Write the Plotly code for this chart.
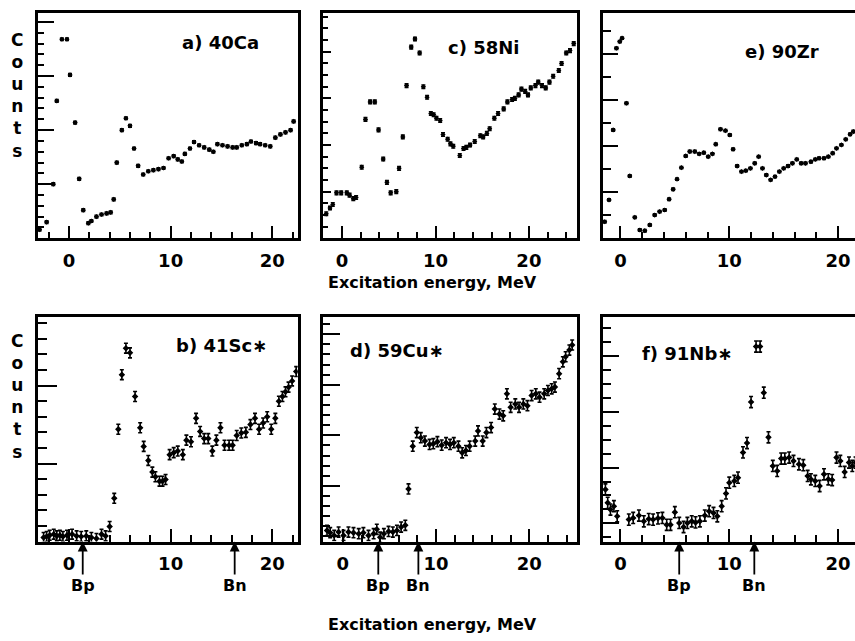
import plotly.graph_objects as go

# ---------------- data ----------------
# a) 40Ca
ca40_E = [-2.9, -2.2, -1.55, -1.2, -0.7, -0.2, 0.1, 0.6, 1.0, 1.4, 1.9, 2.2, 2.7, 3.2, 3.7, 4.1,
          4.4, 4.7, 5.2, 5.6, 6.0, 6.4, 6.8, 7.3, 7.8, 8.3, 8.8, 9.3, 9.8, 10.3, 10.7, 11.1, 11.4,
          11.9, 12.3, 12.8, 13.3, 13.8, 14.2, 14.6, 15.1, 15.6, 16.1, 16.5, 17.0, 17.5, 17.9, 18.4,
          18.8, 19.3, 19.8, 20.3, 20.8, 21.3, 21.8, 22.1]
ca40_C = [0.8, 1.5, 5.0, 12.7, 18.4, 18.4, 15.1, 10.7, 5.5, 2.6, 1.4, 1.6, 2.0, 2.2, 2.3, 2.4,
          3.6, 7.0, 10.0, 11.1, 10.4, 8.3, 6.7, 5.9, 6.2, 6.3, 6.4, 6.5, 7.4, 7.6, 7.3, 7.1, 7.8,
          8.3, 8.9, 8.6, 8.4, 8.2, 8.0, 8.7, 8.6, 8.5, 8.4, 8.4, 8.6, 8.7, 8.95, 8.8,
          8.7, 8.6, 8.5, 9.3, 9.6, 9.8, 10.0, 10.8]

# c) 58Ni
ni58_E = [-1.7, -1.3, -1.0, -0.6, -0.1, 0.5, 0.8, 1.2, 1.5, 2.1, 2.5, 3.0, 3.5, 3.9, 4.4, 4.8,
          5.2, 5.8, 6.1, 6.5, 6.9, 7.4, 7.8, 8.3, 8.7, 9.1, 9.5, 9.8, 10.1, 10.5, 10.8, 11.3, 11.6,
          11.9, 12.6, 13.0, 13.3, 13.7, 14.2, 14.8, 15.1, 15.5, 15.8, 16.3, 16.7, 17.3, 17.7, 18.2,
          18.5, 18.9, 19.2, 19.6, 19.9, 20.2, 20.7, 21.0, 21.4, 21.8, 22.2, 22.6, 23.2, 23.5, 24.0,
          24.4, 24.8]
ni58_C = [2.1, 2.6, 2.9, 3.9, 3.9, 3.9, 3.7, 3.4, 3.5, 6.1, 10.2, 11.7, 11.7, 9.3, 6.8, 4.8,
          3.9, 4.0, 6.0, 8.7, 13.1, 16.4, 17.1, 15.9, 13.0, 12.1, 10.7, 10.6, 10.3, 10.1, 8.9, 8.5, 8.1,
          7.9, 7.1, 7.7, 7.8, 8.0, 8.3, 8.8, 8.7, 9.0, 9.4, 10.3, 10.7, 11.1, 11.7, 11.9,
          12.0, 12.3, 12.8, 12.6, 12.3, 12.9, 13.1, 13.4, 13.1, 12.9, 13.4, 13.9, 14.4, 15.0, 15.9,
          16.1, 16.7]

# e) 90Zr
zr90_E = [-1.45, -1.05, -0.67, -0.37, -0.06, 0.15, 0.55, 0.86, 1.32, 1.78, 2.24, 2.7, 3.15, 3.6,
          4.07, 4.47, 4.84, 5.2, 5.6, 6.0, 6.37, 6.83, 7.23, 7.66, 8.06, 8.45, 8.76, 9.19, 9.65,
          10.05, 10.35, 10.72, 11.12, 11.52, 11.94, 12.34, 12.7, 13.05, 13.4, 13.8, 14.2, 14.6,
          15.0, 15.4, 15.8, 16.2, 16.6, 17.0, 17.5, 17.9, 18.25, 18.7, 19.1, 19.5, 19.85, 20.3,
          20.7, 21.1, 21.4]
zr90_C = [0.72, 1.67, 4.71, 8.26, 8.55, 8.70, 5.87, 2.71, 0.91, 0.36, 0.33, 0.58, 1.01, 1.16,
          1.23, 1.70, 2.13, 2.57, 3.07, 3.58, 3.77, 3.77, 3.67, 3.72, 3.55, 3.67, 4.09, 4.74, 4.68,
          4.49, 3.87, 3.14, 2.90, 2.94, 3.04, 3.26, 3.55, 3.04, 2.75, 2.54, 2.68, 2.90,
          3.04, 3.14, 3.26, 3.43, 3.26, 3.26, 3.33, 3.43, 3.48, 3.48, 3.55, 3.70, 3.91, 4.06,
          4.30, 4.52, 4.64]

# b) 41Sc*
sc41_E = [-2.5, -2.2, -1.9, -1.5, -1.2, -0.9, -0.6, -0.2, 0.3, 0.75, 1.2, 1.7, 2.2, 2.7, 3.2, 3.6,
          4.0, 4.45, 4.85, 5.2, 5.6, 6.0, 6.5, 7.0, 7.35, 7.8, 8.2, 8.5, 8.9, 9.2, 9.5, 9.9, 10.3,
          10.7, 11.2, 11.55, 12.0, 12.5, 12.9, 13.3, 13.7, 14.1, 14.5, 14.9, 15.3, 15.75, 16.1,
          16.5, 16.95, 17.4, 17.85, 18.3, 18.7, 19.1, 19.5, 19.9, 20.3, 20.65, 21.0, 21.3, 21.6,
          21.95, 22.35]
sc41_C = [0.26, 0.32, 0.4, 0.47, 0.36, 0.4, 0.32, 0.4, 0.47, 0.36, 0.32, 0.36, 0.26, 0.19, 0.47, 0.36,
          0.96, 2.77, 7.2, 10.7, 12.4, 12.1, 9.3, 7.3, 6.1, 5.2, 4.45, 4.15, 3.87, 3.87, 3.98, 5.57, 5.7,
          5.8, 5.57, 6.5, 6.4, 7.9, 7.06, 6.6, 6.6, 5.8, 6.5, 7.3, 6.17, 6.17, 6.17,
          6.8, 6.96, 7.0, 7.5, 7.9, 7.2, 7.6, 8.0, 7.2, 7.9, 9.0, 9.3, 9.6, 9.9,
          10.3, 10.9]

# d) 59Cu*
cu59_E = [-1.7, -1.36, -0.93, -0.46, 0.07, 0.6, 1.14, 1.7, 2.2, 2.75, 3.3, 3.64, 4.0, 4.4, 4.9,
          5.36, 5.8, 6.25, 6.7, 7.04, 7.5, 7.93, 8.36, 8.8, 9.3, 9.7, 10.14, 10.6, 11.07, 11.5,
          11.9, 12.4, 12.8, 13.2, 13.6, 14.2, 14.5, 15.0, 15.4, 15.9, 16.3, 16.8, 17.2, 17.6,
          18.0, 18.5, 18.9, 19.36, 19.8, 20.25, 20.7, 21.1, 21.6, 22.0, 22.4, 22.75, 23.2, 23.6,
          23.9, 24.3, 24.6]
cu59_C = [1.1, 0.87, 0.6, 0.93, 0.6, 0.93, 0.87, 0.77, 0.87, 0.6, 0.77, 1.2, 0.43, 0.77, 1.0,
          0.93, 1.1, 1.43, 1.6, 5.2, 9.43, 10.77, 10.27, 9.93, 9.6, 9.67, 9.87, 9.53, 9.77, 9.6,
          9.77, 9.43, 8.77, 9.0, 9.43, 9.93, 10.93, 9.93, 10.77, 11.27, 13.1, 12.6, 12.43, 14.6,
          13.27, 13.6, 13.27, 13.6, 13.43, 14.43, 14.6, 14.27, 14.6, 14.93, 15.1, 15.27, 16.6, 17.77,
          18.27, 18.93, 19.43]

# f) 91Nb*
nb91_E = [-1.38, -1.17, -0.92, -0.6, -0.3, 0.77, 1.17, 1.7, 2.15, 2.6, 3.0, 3.45, 3.85, 4.25,
          4.6, 5.0, 5.4, 5.8, 6.15, 6.55, 6.9, 7.3, 7.75, 8.15, 8.55, 8.9, 9.3, 9.7, 10.0, 10.46,
          10.8, 11.26, 11.63, 12.0, 12.46, 12.83, 13.17, 13.6, 14.0, 14.4, 14.77, 15.1, 15.5,
          15.9, 16.4, 16.8, 17.2, 17.5, 17.9, 18.3, 18.7, 19.1, 19.45, 19.85, 20.2, 20.6, 21.0,
          21.3, 21.6]
nb91_C = [2.43, 1.47, 0.99, 1.23, 0.51, 0.27, 0.39, 0.56, 0.15, 0.31, 0.27, 0.36, 0.39, -0.1,
          -0.1, 0.8, 0.03, -0.26, 0.03, 0.15, 0.07, 0.15, 0.56, 0.87, 0.75, 0.51, 1.23, 2.15, 2.92, 3.04,
          3.28, 5.09, 5.76, 8.7, 12.68, 12.68, 9.37, 6.17, 4.12, 3.76, 4.65, 4.65, 4.72,
          4.48, 4.24, 4.17, 3.4, 3.16, 3.04, 2.68, 3.52, 3.16, 3.11, 4.72, 4.48, 3.69, 4.36,
          4.12, 4.36]

# thresholds Bp / Bn (MeV)
sc41_B = [1.35, 16.3]
cu59_B = [3.8, 8.1]
nb91_B = [5.4, 12.3]
B_names = ["Bp", "Bn"]

x_ticks = [0, 10, 20]
x_title = "Excitation energy, MeV"
y_title = "C<br>o<br>u<br>n<br>t<br>s"

# ---------------- layout geometry ----------------
W, H = 855, 641
FONT = "DejaVu Sans"


def fx(p):
    return p / W


def fy(p):
    return 1 - p / H


panels = [
    dict(E=ca40_E, C=ca40_C, lab="a) 40Ca", lx=220, ly=43, xd=(37.7, 297.7), yd=(13.3, 238.3),
         xr=[-3.08, 22.5], yr=[0, 20.8], y0=0, ymaj=5, ylen=(17, 7), err=0.12, size=4, B=None, right=True),
    dict(E=ni58_E, C=ni58_C, lab="c) 58Ni", lx=483, ly=47, xd=(322.5, 577.0), yd=(13.3, 238.3),
         xr=[-2.1, 25.15], yr=[0, 19.3], y0=0, ymaj=4, ylen=(9, 6), err=0.15, size=4, B=None, right=True),
    dict(E=zr90_E, C=zr90_C, lab="e) 90Zr", lx=782, ly=52, xd=(602.7, 855.0), yd=(13.3, 238.3),
         xr=[-1.63, 21.55], yr=[0, 9.78], y0=0, ymaj=2, ylen=(16, 9), err=0.05, size=4, B=None, right=False),
    dict(E=sc41_E, C=sc41_C, lab="b) 41Sc∗", lx=221, ly=345, xd=(37.7, 297.7), yd=(317.0, 541.5),
         xr=[-3.08, 22.5], yr=[0, 14.4], y0=0, ymaj=5, ylen=(20, 10), err=0.32, size=5, B=sc41_B, right=True),
    dict(E=cu59_E, C=cu59_C, lab="d) 59Cu∗", lx=397, ly=350, xd=(323.3, 577.3), yd=(317.0, 541.5),
         xr=[-2.1, 25.15], yr=[0, 22.2], y0=0.5, ymaj=5, ylen=(17, 7), err=0.5, size=5, B=cu59_B, right=True),
    dict(E=nb91_E, C=nb91_C, lab="f) 91Nb∗", lx=687, ly=353, xd=(602.7, 855.0), yd=(317.0, 541.5),
         xr=[-1.63, 21.55], yr=[-1.3, 14.8], y0=0, ymaj=4, ylen=(17, 9), err=0.4, size=5, B=nb91_B, right=False),
]

fig = go.Figure()
annotations = []

for i, p in enumerate(panels, start=1):
    sfx = "" if i == 1 else str(i)
    xa, ya = "x" + sfx, "y" + sfx
    fig.add_trace(go.Scatter(
        x=p["E"], y=p["C"], xaxis=xa, yaxis=ya, mode="markers",
        marker=dict(symbol="diamond", size=p["size"], color="black"),
        error_y=dict(type="constant", value=p["err"], color="black", thickness=1.6, width=2),
        error_x=dict(type="constant", value=0.2, color="black", thickness=1.5, width=0),
        showlegend=False, hoverinfo="skip"))

    xaxis = dict(
        domain=[fx(p["xd"][0]), min(1.0, fx(p["xd"][1]))], range=p["xr"], anchor=ya,
        showgrid=False, zeroline=False, showline=True, linecolor="black", linewidth=2.5,
        mirror=True, ticks="inside", tickmode="array", tickvals=x_ticks,
        ticktext=[str(v) for v in x_ticks], ticklen=13, tickwidth=2, tickcolor="black",
        ticklabelstandoff=4,
        tickfont=dict(family=FONT, size=18, color="black", weight="bold"),
        minor=dict(ticks="inside", dtick=2, tick0=0, ticklen=7, tickwidth=2, tickcolor="black"),
        fixedrange=True)
    yaxis = dict(
        domain=[fy(p["yd"][1]), fy(p["yd"][0])], range=p["yr"], anchor=xa,
        showgrid=False, zeroline=False, showline=True, linecolor="black", linewidth=2.5,
        mirror=p["right"], ticks="inside", tickmode="linear", tick0=p["y0"], dtick=p["ymaj"],
        ticklen=p["ylen"][0], tickwidth=2, tickcolor="black", showticklabels=False,
        minor=dict(ticks="inside", dtick=1, tick0=p["y0"], ticklen=p["ylen"][1], tickwidth=2,
                   tickcolor="black"),
        fixedrange=True)
    fig.update_layout({"xaxis" + sfx: xaxis, "yaxis" + sfx: yaxis})

    annotations.append(dict(
        text=p["lab"], x=fx(p["lx"]), y=fy(p["ly"]), xref="paper", yref="paper",
        xanchor="center", yanchor="middle", showarrow=False,
        font=dict(family=FONT, size=18, color="black", weight="bold")))

    if p["B"] is not None:
        for bx, bn in zip(p["B"], B_names):
            annotations.append(dict(
                text=bn, x=bx, y=0, xref=xa, yref=ya + " domain", showarrow=True,
                ax=0, ay=44, arrowhead=2, arrowsize=1.1, arrowwidth=1.8, arrowcolor="black",
                font=dict(family=FONT, size=16, color="black", weight="bold")))

# axis titles
for yy in (282, 624):
    annotations.append(dict(
        text=x_title, x=fx(432), y=fy(yy), xref="paper", yref="paper", xanchor="center",
        yanchor="middle", showarrow=False,
        font=dict(family=FONT, size=16, color="black", weight="bold")))
for yy in (95, 396):
    annotations.append(dict(
        text=y_title, x=fx(17), y=fy(yy), xref="paper", yref="paper", xanchor="center",
        yanchor="middle", showarrow=False,
        font=dict(family=FONT, size=17, color="black", weight="bold")))

fig.update_layout(
    width=W, height=H, margin=dict(l=0, r=0, t=0, b=0),
    paper_bgcolor="white", plot_bgcolor="white",
    annotations=annotations, showlegend=False)

fig.write_html("out.html", config={"displayModeBar": False},
               post_script="document.body.style.margin='0';document.body.style.overflow='hidden';")
